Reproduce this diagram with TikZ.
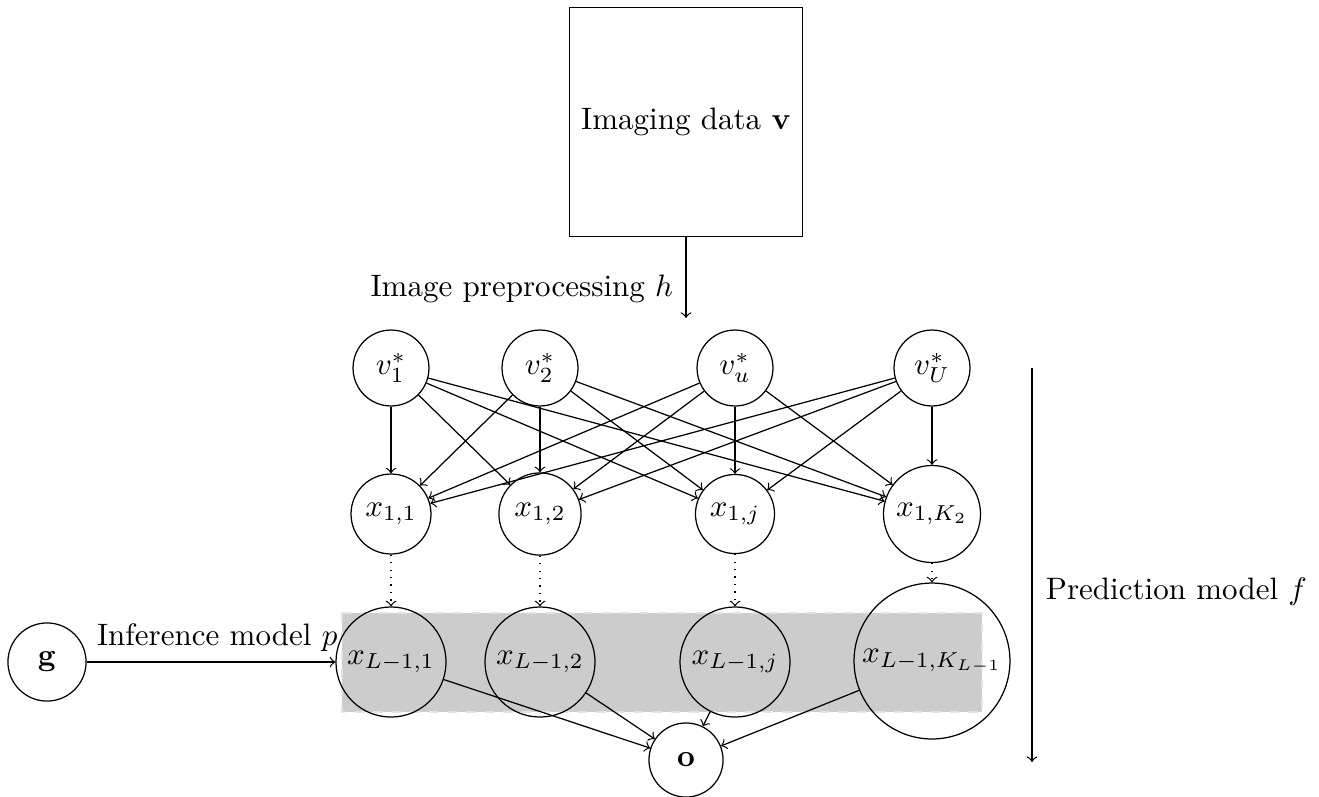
\documentclass[tikz,border=0pt]{standalone}
\usetikzlibrary{backgrounds}
\begin{document}
\begin{tikzpicture}[x=0.32258pt,y=-0.32258pt,
  unit/.style={circle,draw,inner sep=0pt},
  link/.style={->},
  skiplink/.style={->,dotted},
  layerbox/.style={fill=gray!40,draw=gray!22,dashed,thin}]
\useasboundingbox (0,0) rectangle (1319,796);

% input image
\node[draw,minimum width=75.2pt,minimum height=73.9pt] (img) at (686,122) {Imaging data $\mathbf{v}$};
\coordinate (pre) at (686,318);
\draw[link] (img.south) -- (pre);
\node[anchor=east] (prelab) at (684,289) {Image preprocessing $h$};

% preprocessed features
\node[unit,minimum size=24.5pt] (v1) at (391,368) {$v_1^*$};
\node[unit,minimum size=24.5pt] (v2) at (540,368) {$v_2^*$};
\node[unit,minimum size=24.5pt] (vu) at (735,368) {$v_u^*$};
\node[unit,minimum size=24.5pt] (vU) at (932,368) {$v_U^*$};

% first hidden layer
\node[unit,minimum size=25.8pt] (x11) at (391,514) {$x_{1,1}$};
\node[unit,minimum size=26.5pt] (x12) at (540,514) {$x_{1,2}$};
\node[unit,minimum size=25.5pt] (x1j) at (735,514) {$x_{1,j}$};
\node[unit,minimum size=31.3pt] (x1K) at (932,514) {$x_{1,K_2}$};

% last hidden layer
\node[unit,minimum size=35.5pt] (xL1) at (391,662) {$x_{L-1,1}$};
\node[unit,minimum size=35.5pt] (xL2) at (540,662) {$x_{L-1,2}$};
\node[unit,minimum size=35.5pt] (xLj) at (735,662) {$x_{L-1,j}$};
\node[unit,minimum size=50.3pt] (xLK) at (932,661) {$x_{L-1,K_{L-1}}$};

% output and genetic input
\node[unit,minimum size=23.9pt] (o) at (686,760) {$\mathbf{o}$};
\node[unit,minimum size=25.2pt] (g) at (47,662) {$\mathbf{g}$};

% shaded last layer
\begin{scope}[on background layer]
  \draw[layerbox] (342,613) rectangle (982,712);
\end{scope}

% fully connected first layer
\foreach \s in {v1,v2,vu,vU}
  \foreach \t in {x11,x12,x1j,x1K}
    \draw[link] (\s) -- (\t);

% intermediate layers
\draw[skiplink] (x11) -- (xL1);
\draw[skiplink] (x12) -- (xL2);
\draw[skiplink] (x1j) -- (xLj);
\draw[skiplink] (x1K) -- (xLK);

% output connections
\foreach \s in {xL1,xL2,xLj,xLK}
  \draw[link] (\s) -- (o);

% inference model
\draw[link] (g) -- node[above,xshift=2pt] (plab) {Inference model $p$} (xL1);

% prediction model
\coordinate (ftop) at (1032,368);
\coordinate (fbot) at (1032,762);
\draw[link] (ftop) -- (fbot);
\node[anchor=west] (flab) at (1035,592) {Prediction model $f$};
\end{tikzpicture}
\end{document}
